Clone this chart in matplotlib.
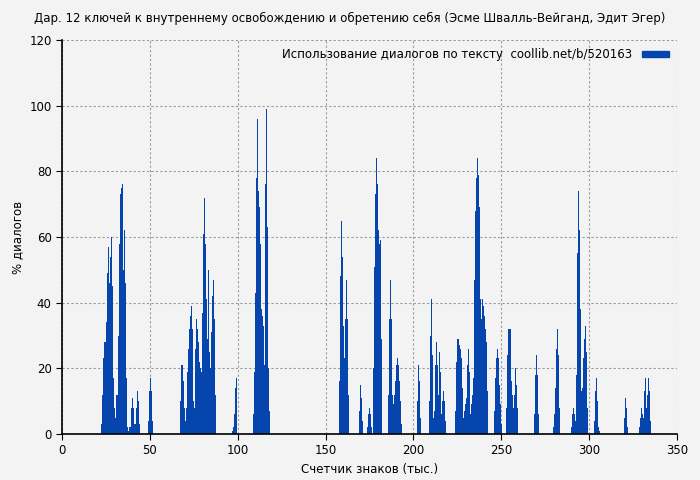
import matplotlib
matplotlib.use("Agg")
import matplotlib.pyplot as plt
from matplotlib.patches import Patch

step = 0.569
cluster_starts = [22.2, 48.9, 67.2, 96.8, 108.7, 157.7, 169.0, 173.6, 177.0, 185.5,
                  202.0, 208.9, 223.7, 245.9, 252.7, 268.6, 279.5, 289.7, 302.8, 319.9, 328.4]
cluster_values = [
    [3, 12, 23, 28, 28, 34, 49, 57, 46, 54, 60, 45, 17, 8, 5, 12, 12, 30, 58, 73, 75, 76, 50, 62, 46, 17, 2, 1, 2, 2, 8, 11, 8, 3, 3, 8, 13, 10, 3],
    [4, 13, 17, 13, 4],
    [10, 21, 21, 16, 8, 4, 8, 19, 26, 32, 36, 39, 32, 10, 8, 26, 35, 32, 28, 22, 20, 19, 37, 61, 72, 58, 41, 29, 50, 25, 20, 31, 42, 47, 35, 12],
    [1, 2, 6, 14, 17],
    [6, 19, 43, 78, 96, 74, 69, 58, 38, 36, 33, 21, 76, 99, 63, 20, 7],
    [16, 48, 65, 54, 33, 23, 35, 47, 35, 12],
    [7, 15, 11, 4],
    [2, 6, 8, 6, 2],
    [20, 51, 73, 84, 76, 62, 58, 59, 29],
    [12, 35, 47, 35, 12, 9, 12, 16, 21, 23, 21, 16, 10, 3],
    [10, 21, 16, 5],
    [10, 30, 41, 24, 5, 7, 21, 28, 21, 12, 25, 19, 6, 10, 13, 10, 4, 0.3],
    [7, 22, 29, 29, 27, 26, 23, 14, 5, 7, 9, 11, 21, 26, 19, 6, 9, 12, 17, 47, 68, 78, 84, 79, 69, 41, 35, 41, 39, 36, 32, 28, 13],
    [7, 17, 23, 26, 23, 15, 9, 3],
    [8, 24, 32, 32, 32, 16, 12, 8, 12, 20, 15, 8],
    [6, 18, 24, 18, 6],
    [2, 6, 14, 26, 32, 24, 8],
    [2, 6, 8, 6, 4, 18, 55, 74, 62, 38, 13, 14, 23, 29, 33, 25, 8],
    [4, 13, 17, 10, 2, 1],
    [5, 11, 8, 2],
    [2, 5, 8, 6, 5, 13, 17, 8, 12, 17, 13, 4],
]

x_ticks = [0, 50, 100, 150, 200, 250, 300, 350]
y_ticks = [0, 20, 40, 60, 80, 100, 120]
title = "Дар. 12 ключей к внутреннему освобождению и обретению себя (Эсме Швалль-Вейганд, Эдит Эгер)"
legend_label = "Использование диалогов по тексту  coollib.net/b/520163"

bg = "#f3f3f3"
blue = "#0645ad"
fig = plt.figure(figsize=(7, 4.8), dpi=100, facecolor=bg)
ax = fig.add_axes([62/700, 1-434/480, 615/700, 394/480], facecolor=bg)

for s, vals in zip(cluster_starts, cluster_values):
    xs = [s + i * step for i in range(len(vals))]
    ax.bar(xs, vals, width=step, align="edge", color=blue, linewidth=0)

ax.set_xlim(0, 350)
ax.set_ylim(0, 120)
ax.set_xticks(x_ticks)
ax.set_yticks(y_ticks)
ax.tick_params(labelsize=8.5, direction="out", length=4, color="black")
ax.grid(True, color="#999999", linestyle=(0, (2, 2)), linewidth=0.8)
ax.set_axisbelow(True)
for sp in ["top", "right"]:
    ax.spines[sp].set_visible(False)
ax.spines["left"].set_linewidth(1.2)
ax.spines["bottom"].set_linewidth(1.2)
ax.set_xlabel("Счетчик знаков (тыс.)", fontsize=8.5)
ax.set_ylabel("% диалогов", fontsize=8.5)
fig.text(0.5, 1-18/480, title, ha="center", va="center", fontsize=8.5)
leg = ax.legend(handles=[Patch(color=blue, label=legend_label)], loc="upper right",
                frameon=False, fontsize=8.5, handlelength=2.3, handleheight=0.5,
                markerfirst=False, borderaxespad=0.3)
fig.savefig("out.png", dpi=100, facecolor=bg)
